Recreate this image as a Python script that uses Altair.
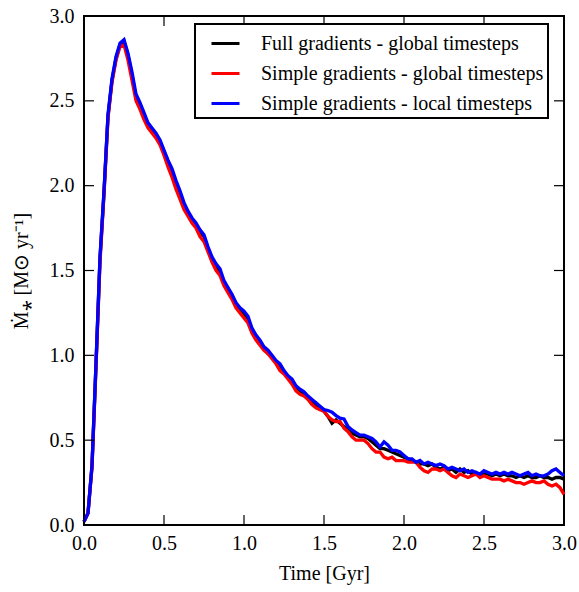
import altair as alt
import numpy as np
import pandas as pd

# time grid (Gyr), 0.025 spacing
time = [round(v, 3) for v in np.arange(0, 3.0001, 0.025)]

full_global = [
    0.02, 0.07, 0.35, 0.95, 1.57, 1.96, 2.41, 2.62, 2.75, 2.83,
    2.85, 2.77, 2.65, 2.52, 2.46, 2.41, 2.36, 2.33, 2.30, 2.26,
    2.20, 2.14, 2.08, 2.01, 1.95, 1.89, 1.84, 1.80, 1.77, 1.73,
    1.70, 1.63, 1.57, 1.53, 1.49, 1.43, 1.39, 1.35, 1.30, 1.27,
    1.24, 1.21, 1.15, 1.11, 1.07, 1.04, 1.01, 0.99, 0.96, 0.93,
    0.90, 0.87, 0.85, 0.81, 0.79, 0.77, 0.75, 0.73, 0.71, 0.69,
    0.67, 0.64, 0.60, 0.62, 0.60, 0.58, 0.56, 0.54, 0.53, 0.52,
    0.52, 0.51, 0.49, 0.47, 0.45, 0.45, 0.44, 0.43, 0.42, 0.41,
    0.40, 0.39, 0.38, 0.37, 0.36, 0.36, 0.35, 0.36, 0.34, 0.33,
    0.34, 0.32, 0.33, 0.31, 0.33, 0.31, 0.32, 0.30, 0.31, 0.29,
    0.30, 0.30, 0.29, 0.30, 0.29, 0.30, 0.29, 0.29, 0.28, 0.29,
    0.28, 0.29, 0.28, 0.28, 0.29, 0.28, 0.28, 0.27, 0.28, 0.28,
    0.27,
]

simple_global = [
    0.02, 0.07, 0.34, 0.93, 1.55, 1.95, 2.40, 2.61, 2.74, 2.82,
    2.83, 2.74, 2.62, 2.50, 2.45, 2.39, 2.34, 2.31, 2.28, 2.24,
    2.18, 2.11, 2.05, 1.98, 1.92, 1.86, 1.82, 1.78, 1.75, 1.70,
    1.67, 1.61, 1.55, 1.50, 1.47, 1.41, 1.37, 1.33, 1.28, 1.25,
    1.22, 1.19, 1.13, 1.09, 1.06, 1.03, 1.01, 0.98, 0.95, 0.91,
    0.89, 0.86, 0.83, 0.79, 0.77, 0.76, 0.74, 0.71, 0.69, 0.68,
    0.67, 0.64, 0.62, 0.61, 0.61, 0.57, 0.55, 0.52, 0.50, 0.50,
    0.50, 0.48, 0.45, 0.43, 0.43, 0.40, 0.39, 0.40, 0.38, 0.38,
    0.38, 0.37, 0.37, 0.37, 0.34, 0.32, 0.31, 0.33, 0.33, 0.32,
    0.33, 0.31, 0.29, 0.28, 0.30, 0.29, 0.28, 0.29, 0.30, 0.28,
    0.29, 0.28, 0.27, 0.27, 0.27, 0.26, 0.27, 0.26, 0.25, 0.25,
    0.24, 0.25, 0.26, 0.25, 0.25, 0.26, 0.24, 0.23, 0.24, 0.22,
    0.18,
]

simple_local = [
    0.02, 0.07, 0.35, 0.95, 1.58, 1.97, 2.42, 2.63, 2.76, 2.84,
    2.86, 2.78, 2.67, 2.54, 2.49, 2.43, 2.37, 2.34, 2.31, 2.27,
    2.21, 2.15, 2.10, 2.03, 1.97, 1.90, 1.85, 1.81, 1.78, 1.74,
    1.71, 1.64, 1.58, 1.54, 1.51, 1.44, 1.40, 1.36, 1.31, 1.28,
    1.26, 1.23, 1.16, 1.12, 1.09, 1.05, 1.03, 1.00, 0.97, 0.95,
    0.91, 0.88, 0.86, 0.82, 0.80, 0.785, 0.76, 0.74, 0.72, 0.70,
    0.68, 0.675, 0.665, 0.645, 0.63, 0.625, 0.58, 0.56, 0.545, 0.53,
    0.53, 0.52, 0.51, 0.49, 0.46, 0.49, 0.47, 0.44, 0.44, 0.43,
    0.41, 0.39, 0.39, 0.37, 0.38, 0.36, 0.37, 0.36, 0.35, 0.36,
    0.35, 0.33, 0.34, 0.33, 0.32, 0.33, 0.31, 0.32, 0.31, 0.30,
    0.32, 0.31, 0.30, 0.31, 0.30, 0.31, 0.30, 0.31, 0.30, 0.29,
    0.30, 0.31, 0.29, 0.30, 0.29, 0.29, 0.30, 0.32, 0.33, 0.31,
    0.29,
]

labels = [
    "Full gradients - global timesteps",
    "Simple gradients - global timesteps",
    "Simple gradients - local timesteps",
]
colors = ["#000000", "#ff0000", "#0000ff"]
x_ticks = [0.0, 0.5, 1.0, 1.5, 2.0, 2.5, 3.0]
y_ticks = [0.0, 0.5, 1.0, 1.5, 2.0, 2.5, 3.0]

W, H = 480, 509
FONT = "Liberation Serif"
FS = 20

frames = []
for lab, vals in zip(labels, [full_global, simple_global, simple_local]):
    frames.append(pd.DataFrame({"time": time, "sfr": vals, "run": lab}))
df = pd.concat(frames, ignore_index=True)

xscale = alt.Scale(domain=[0, 3], nice=False, zero=False)
yscale = alt.Scale(domain=[0, 3], nice=False, zero=False)
cscale = alt.Scale(domain=labels, range=colors)

xaxis = alt.Axis(values=x_ticks, format=".1f", title="Time [Gyr]", ticks=False,
                 domain=False, grid=False, labelPadding=8, titlePadding=10,
                 labelFlush=False, labelOverlap=False)
yaxis = alt.Axis(values=y_ticks, format=".1f", title="Ṁ⁎ [M⊙ yr⁻¹]", ticks=False,
                 domain=False, grid=False, labelPadding=10, titlePadding=18,
                 labelFlush=False, labelOverlap=False)

legend = alt.Legend(title=None, orient="none", legendX=111, legendY=8,
                    symbolType="stroke", symbolSize=784, symbolStrokeWidth=3,
                    symbolOffset=11,
                    labelFontSize=FS, labelFont=FONT, labelColor="black",
                    labelOffset=20, rowPadding=4, padding=4,
                    strokeColor="black", fillColor="white", labelLimit=400)

layers = []
for lab in labels:
    layers.append(
        alt.Chart(df).transform_filter(alt.datum.run == lab).mark_line(strokeWidth=3.3).encode(
            x=alt.X("time:Q", scale=xscale, axis=xaxis),
            y=alt.Y("sfr:Q", scale=yscale, axis=yaxis),
            color=alt.Color("run:N", scale=cscale, legend=legend),
        )
    )

xt = pd.DataFrame({"v": x_ticks})
yt = pd.DataFrame({"v": y_ticks})
TL = 10
bottom_ticks = alt.Chart(xt).mark_rule(color="black", strokeWidth=1.2).encode(
    x=alt.X("v:Q", scale=xscale), y=alt.value(H), y2=alt.value(H - TL))
top_ticks = alt.Chart(xt).mark_rule(color="black", strokeWidth=1.2).encode(
    x=alt.X("v:Q", scale=xscale), y=alt.value(0), y2=alt.value(TL))
left_ticks = alt.Chart(yt).mark_rule(color="black", strokeWidth=1.2).encode(
    y=alt.Y("v:Q", scale=yscale), x=alt.value(0), x2=alt.value(TL))
right_ticks = alt.Chart(yt).mark_rule(color="black", strokeWidth=1.2).encode(
    y=alt.Y("v:Q", scale=yscale), x=alt.value(W), x2=alt.value(W - TL))

chart = alt.layer(*layers, bottom_ticks, top_ticks, left_ticks, right_ticks).properties(
    width=W, height=H,
    autosize=alt.AutoSizeParams(type="none"),
    padding={"left": 84, "top": 16, "right": 15, "bottom": 67},
).configure_view(
    stroke="black", strokeWidth=2
).configure_axis(
    labelFont=FONT, labelFontSize=FS, labelColor="black",
    titleFont=FONT, titleFontSize=FS, titleFontWeight="normal", titleColor="black",
).configure_legend(
    strokeWidth=2
)

chart.save("out.html", embed_options={"renderer": "svg", "actions": False})
